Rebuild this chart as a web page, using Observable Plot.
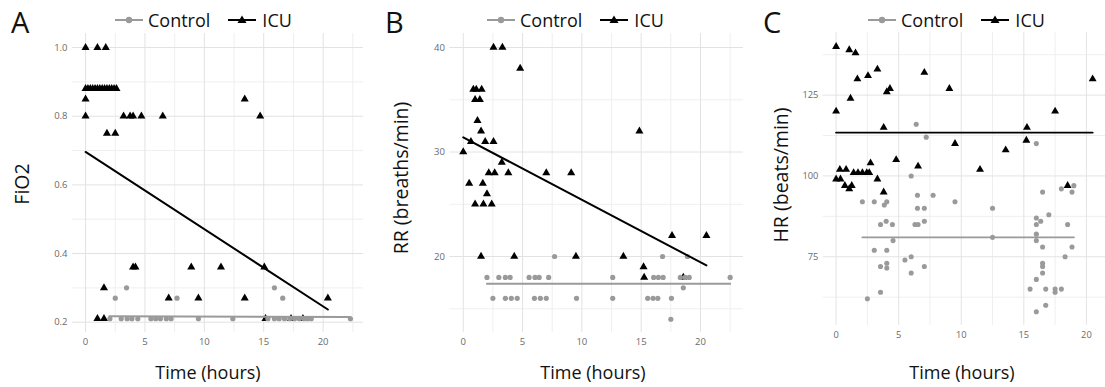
<!DOCTYPE html>
<html><head><meta charset="utf-8">
<script src="https://cdn.jsdelivr.net/npm/d3@7"></script>
<script src="https://cdn.jsdelivr.net/npm/@observablehq/plot@0.6"></script>
<style>
body{margin:0;background:#fff;}
#wrap{position:relative;width:1105px;height:387px;overflow:hidden;font-family:"Open Sans",sans-serif;color:#111;}
.svgbox{position:absolute;top:0;}
.letter{position:absolute;font-size:29px;line-height:1;}
.legend{position:absolute;display:flex;align-items:center;font-size:18px;line-height:1;white-space:nowrap;}
.xt{position:absolute;font-size:18px;line-height:1;transform:translate(-50%,-50%);white-space:nowrap;}
.yt{position:absolute;font-size:19.5px;line-height:1;transform:translate(-50%,-50%) rotate(-90deg);white-space:nowrap;}
</style></head><body><div id="wrap"></div>
<script>
// ---------- data ----------
const seriesNames = ["Control", "ICU"];
const xMajor = [0, 5, 10, 15, 20];
const xMinor = [2.5, 7.5, 12.5, 17.5, 22.5];

// Panel A: FiO2
const fio2Icu = [[0,1.0],[1.0,1.0],[1.7,1.0],
 [0,0.88],[0.2,0.88],[0.4,0.88],[0.6,0.88],[0.8,0.88],[1.0,0.88],[1.2,0.88],[1.4,0.88],[1.6,0.88],[1.8,0.88],[2.0,0.88],[2.2,0.88],[2.4,0.88],[2.6,0.88],
 [0,0.85],[0,0.8],[3.2,0.8],[3.75,0.8],[4.0,0.8],[4.7,0.8],[6.5,0.8],[1.8,0.75],[2.5,0.75],
 [13.4,0.85],[14.7,0.8],[4.0,0.36],[4.2,0.36],[8.9,0.36],[11.4,0.36],[15.05,0.36],[1.55,0.3],
 [7.0,0.27],[9.5,0.27],[13.4,0.27],[20.4,0.27],[1.0,0.21],[1.55,0.21],[15.15,0.21],[17.3,0.21],[18.3,0.21]];
const fio2Control = [[3.45,0.3],[15.9,0.3],[2.5,0.27],[7.7,0.27],[16.6,0.27],
 [2.05,0.21],[3.0,0.21],[3.5,0.21],[3.9,0.21],[4.4,0.21],[5.5,0.21],[5.9,0.21],[6.3,0.21],[6.8,0.21],[7.2,0.21],
 [9.5,0.21],[12.4,0.21],[15.35,0.21],[15.9,0.21],[16.3,0.21],[16.75,0.21],[17.2,0.21],[17.6,0.21],[18.0,0.21],
 [18.4,0.21],[18.7,0.21],[19.0,0.21],[22.3,0.21]];
const fio2TrendIcu = [[0,0.696],[20.4,0.237]];
const fio2TrendControl = [[2.0,0.217],[22.3,0.215]];
const fio2Ticks = [0.2, 0.4, 0.6, 0.8, 1.0];
const fio2Minor = [0.3, 0.5, 0.7, 0.9];

// Panel B: RR
const rrIcu = [[2.55,40],[3.3,40],[4.8,38],[0.85,36],[1.1,36],[1.55,36],[1.0,35],[1.4,35],[1.2,33],[1.5,32],
 [0.65,31],[1.85,31],[2.55,31],[0,30],[3.25,29],[2.15,28],[2.65,28],[3.8,28],[7.0,28],[9.1,28],
 [0.5,27],[1.65,27],[2.0,26],[1.0,25],[1.7,25],[2.4,25],[1.5,20],[4.3,20],[9.5,20],[13.5,20],
 [14.85,32],[17.6,22],[20.5,22],[15.2,19],[15.25,18],[18.55,18]];
const rrControl = [[7.7,20],[16.8,20],[18.9,20],
 [2.0,18],[3.0,18],[3.55,18],[3.95,18],[5.55,18],[6.05,18],[6.4,18],[7.2,18],[12.6,18],[16.05,18],[16.45,18],
 [16.85,18],[18.3,18],[18.7,18],[19.05,18],[22.5,18],[18.55,17],
 [2.5,16],[3.55,16],[4.05,16],[4.55,16],[6.0,16],[6.5,16],[7.0,16],[9.55,16],[12.6,16],[15.55,16],[16.0,16],
 [16.4,16],[17.55,16],[17.5,14]];
const rrTrendIcu = [[0,31.4],[20.5,19.15]];
const rrTrendControl = [[2.0,17.4],[22.5,17.4]];
const rrTicks = [20, 30, 40];
const rrMinor = [15, 25, 35];

// Panel C: HR
const hrIcu = [[0,140],[1.05,139],[1.55,138],[1.7,130],[2.55,131],[3.3,133],[4.05,126],[4.3,127],[1.15,124],[0,120],
 [3.8,115],[7.05,132],[9.05,127],[9.5,110],[4.8,105],[6.55,103],[2.75,104],[11.5,102],[13.55,108],[15.25,115],
 [15.2,111],[17.5,120],[20.5,130],[18.5,97],[0.3,102],[0.8,102],[0,99],[0.35,99],[1.4,101],[1.75,101],[2.1,101],
 [2.45,101],[2.65,101],[0.7,97],[1.05,96],[1.25,97],[3.3,99],[3.8,95]];
const hrControl = [[6.4,116],[7.2,112],[16.0,110],[6.0,100],[2.1,92],[3.05,92],[3.85,91],[4.05,92],[6.5,94],[7.75,94],
 [9.5,92],[6.5,90],[7.05,90],[12.5,90],[3.55,85],[4.0,86],[4.5,85],[6.3,85],[6.55,85],[7.05,86],[4.55,80],[12.5,81],
 [3.05,77],[4.05,77],[3.55,72],[4.05,73],[4.05,71.5],[5.5,74],[6.0,75],[6.0,70],[7.05,72],[3.55,64],[2.5,62],
 [16.5,95],[18.0,96],[19.0,97],[18.85,95],[17.0,88],[16.0,87],[16.35,86],[16.0,85],[18.5,85],[16.0,82],[16.0,80],
 [16.5,78],[18.85,78],[18.3,75],[16.5,73],[16.5,72],[16.5,70],[16.0,68],[15.5,65],[16.75,65],[17.5,65],[17.5,64],
 [18.0,65],[16.75,60],[16.0,58]];
const hrTrendIcu = [[0,113.4],[20.5,113.4]];
const hrTrendControl = [[2.1,81],[19.0,81]];
const hrTicks = [75, 100, 125];
const hrMinor = [62.5, 87.5, 112.5, 137.5];

const panelLetters = ["A", "B", "C"];
const yTitles = ["FiO2", "RR (breaths/min)", "HR (beats/min)"];
const xTitle = "Time (hours)";

// ---------- drawing ----------
const wrap = document.getElementById("wrap");
const GREY = "#9a9a9a";

function panel(o) {
  const chart = Plot.plot({
    width: o.width, height: 387,
    marginTop: 33, marginBottom: 55, marginLeft: o.marginLeft, marginRight: 0,
    x: {domain: o.xDomain},
    y: {domain: o.yDomain},
    style: {fontFamily: "Open Sans", fontSize: "9.5px", color: "#6a6a6a", background: "transparent", overflow: "visible"},
    marks: [
      Plot.ruleX(xMinor, {stroke: "#efefef", strokeWidth: 1}),
      Plot.ruleY(o.yMinor, {stroke: "#efefef", strokeWidth: 1}),
      Plot.ruleX(xMajor, {stroke: "#e2e2e2", strokeWidth: 1}),
      Plot.ruleY(o.yTicks, {stroke: "#e2e2e2", strokeWidth: 1}),
      Plot.axisX({ticks: xMajor, tickSize: 0, tickPadding: 6, label: null}),
      Plot.axisY({ticks: o.yTicks, tickSize: 0, tickPadding: 5, label: null, tickFormat: o.fmt}),
      Plot.dot(o.icu, {x: d => d[0], y: d => d[1], symbol: "triangle", fill: "#000", r: 3}),
      Plot.dot(o.control, {x: d => d[0], y: d => d[1], fill: GREY, r: 2.6}),
      Plot.line(o.trendControl, {x: d => d[0], y: d => d[1], stroke: GREY, strokeWidth: 2}),
      Plot.line(o.trendIcu, {x: d => d[0], y: d => d[1], stroke: "#000", strokeWidth: 2})
    ]
  });
  const box = document.createElement("div");
  box.className = "svgbox";
  box.style.left = o.left + "px";
  box.appendChild(chart);
  wrap.appendChild(box);

  const L = document.createElement("div");
  L.className = "letter"; L.textContent = o.letter;
  L.style.left = o.letterX + "px"; L.style.top = "7px";
  wrap.appendChild(L);

  const lg = document.createElement("div");
  lg.className = "legend";
  lg.style.left = o.legendX + "px"; lg.style.top = "10px";
  lg.innerHTML =
    `<svg width="28" height="20"><line x1="0" y1="10" x2="28" y2="10" stroke="${GREY}" stroke-width="2"/><circle cx="14" cy="10" r="3.2" fill="${GREY}"/></svg>` +
    `<span style="margin-left:5px">${seriesNames[0]}</span>` +
    `<svg width="28" height="20" style="margin-left:18px"><line x1="0" y1="10" x2="28" y2="10" stroke="#000" stroke-width="2"/><path d="M14,5.5 L18.5,13 L9.5,13 Z" fill="#000"/></svg>` +
    `<span style="margin-left:6px">${seriesNames[1]}</span>`;
  wrap.appendChild(lg);

  const xt = document.createElement("div");
  xt.className = "xt"; xt.textContent = xTitle;
  xt.style.left = o.xTitleX + "px"; xt.style.top = "372px";
  wrap.appendChild(xt);

  const yt = document.createElement("div");
  yt.className = "yt"; yt.textContent = o.yTitle;
  yt.style.left = o.yTitleX + "px"; yt.style.top = o.yTitleY + "px";
  wrap.appendChild(yt);
}

panel({left: 0, width: 363, marginLeft: 72, xDomain: [-1.1, 23.4], yDomain: [0.17, 1.041],
  yTicks: fio2Ticks, yMinor: fio2Minor, fmt: d3.format(".1f"),
  icu: fio2Icu, control: fio2Control, trendIcu: fio2TrendIcu, trendControl: fio2TrendControl,
  letter: panelLetters[0], letterX: 11, legendX: 115, xTitleX: 208, yTitle: yTitles[0], yTitleX: 22, yTitleY: 184});

panel({left: 370, width: 373, marginLeft: 79.4, xDomain: [-1.125, 23.625], yDomain: [12.73, 41.34],
  yTicks: rrTicks, yMinor: rrMinor, fmt: d3.format("d"),
  icu: rrIcu, control: rrControl, trendIcu: rrTrendIcu, trendControl: rrTrendControl,
  letter: panelLetters[1], letterX: 385, legendX: 487, xTitleX: 593, yTitle: yTitles[1], yTitleX: 401, yTitleY: 178});

panel({left: 740, width: 373, marginLeft: 84.6, xDomain: [-1.025, 21.525], yDomain: [53.78, 144.28],
  yTicks: hrTicks, yMinor: hrMinor, fmt: d3.format("d"),
  icu: hrIcu, control: hrControl, trendIcu: hrTrendIcu, trendControl: hrTrendControl,
  letter: panelLetters[2], letterX: 763, legendX: 868, xTitleX: 962, yTitle: yTitles[2], yTitleX: 781, yTitleY: 175});
</script></body></html>
